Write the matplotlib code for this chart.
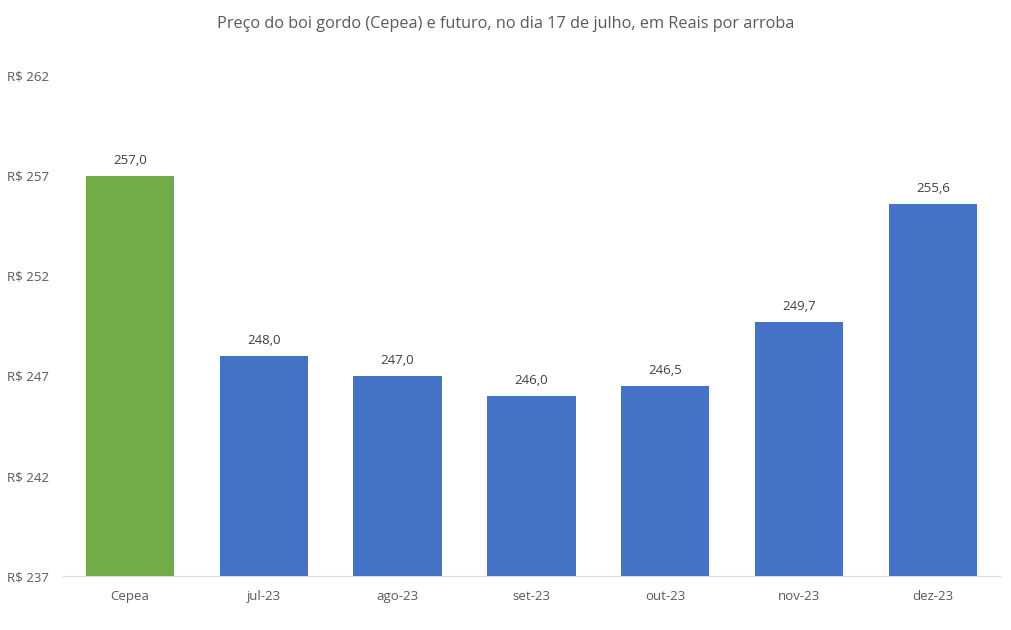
import matplotlib as mpl
mpl.use('Agg')
import matplotlib.pyplot as plt

# dados
categorias = ['Cepea', 'jul-23', 'ago-23', 'set-23', 'out-23', 'nov-23', 'dez-23']
precos = [257.0, 248.0, 247.0, 246.0, 246.5, 249.7, 255.6]
cores = ['#70AD47'] + ['#4472C4'] * 6
yticks = [237, 242, 247, 252, 257, 262]

plt.rcParams['font.family'] = ['Open Sans', 'DejaVu Sans']

fig = plt.figure(figsize=(10.12, 6.3), dpi=100)
ax = fig.add_axes([0.0623, 0.0857, 0.9257, 0.7937])

x = range(len(categorias))
ax.bar(x, [p - 237 for p in precos], bottom=237, width=0.66, color=cores)

# rótulos de dados
for i, p in enumerate(precos):
    ax.text(i, p + 0.45, f'{p:.1f}'.replace('.', ','), ha='center', va='bottom',
            fontsize=9.5, color='#404040')

ax.set_xlim(-0.5, len(categorias) - 0.5)
ax.set_ylim(237, 262)
ax.set_yticks(yticks)
ax.set_yticklabels([f'R$ {v}' for v in yticks])
ax.set_xticks(list(x))
ax.set_xticklabels(categorias)
ax.tick_params(axis='both', length=0, labelsize=9.5, labelcolor='#595959')
ax.tick_params(axis='x', pad=10)
ax.tick_params(axis='y', pad=10)
for s in ['top', 'right', 'left']:
    ax.spines[s].set_visible(False)
ax.spines['bottom'].set_color('#D9D9D9')

fig.text(0.5, 0.962, 'Preço do boi gordo (Cepea) e futuro, no dia 17 de julho, em Reais por arroba',
         ha='center', va='center', fontsize=11.7, color='#595959')

fig.savefig('out.png', dpi=100)
